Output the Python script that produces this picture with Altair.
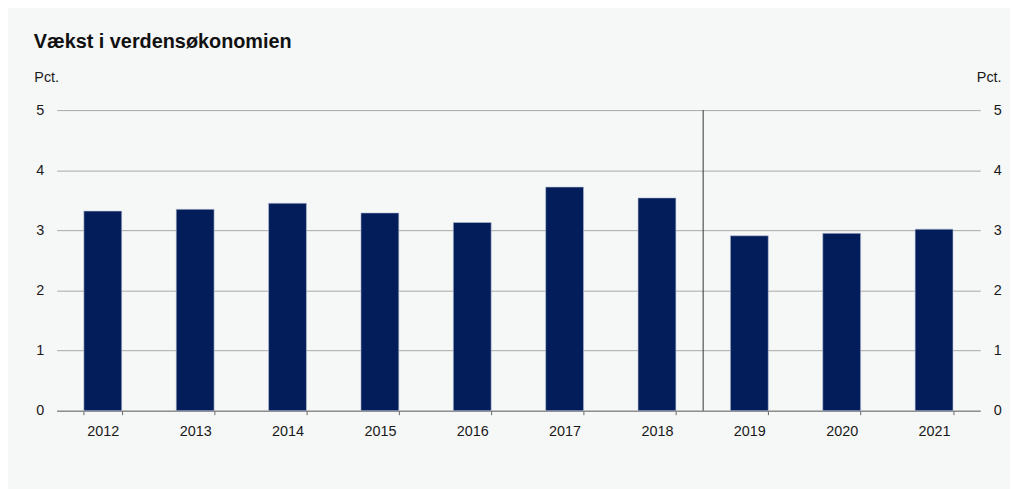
import altair as alt
import pandas as pd

years = ["2012", "2013", "2014", "2015", "2016", "2017", "2018", "2019", "2020", "2021"]
growth = [3.32, 3.35, 3.45, 3.29, 3.13, 3.72, 3.54, 2.91, 2.95, 3.02]
forecast_start = ["2019"]
title_text = "Vækst i verdensøkonomien"
unit_label = "Pct."

df = pd.DataFrame({"year": years, "growth": growth})
df_line = pd.DataFrame({"year": forecast_start})

FONT = "Liberation Sans"
NAVY = "#021d5a"
BG = "#f6f7f7"
TXT = "#1a1a1a"
FS = 14.5
PAD_IN = 0.59
PLOT_W = 931

xscale = alt.Scale(domain=years, paddingInner=PAD_IN, paddingOuter=PAD_IN / 2)
yscale = alt.Scale(domain=[0, 5])

x_axis = alt.Axis(title=None, labelAngle=0, labelFont=FONT, labelFontSize=FS,
                  labelColor=TXT, tickBand="extent", tickColor="#666666",
                  tickSize=4, domainColor="#777777", labelPadding=10, grid=False)

bars = alt.Chart(df).mark_bar(color=NAVY, stroke="#b8c2d6", strokeWidth=0.6).encode(
    x=alt.X("year:O", scale=xscale, sort=years, axis=x_axis),
    y=alt.Y("growth:Q", scale=yscale,
            axis=alt.Axis(orient="left", title=unit_label, titleAngle=0, titleAlign="left",
                          titleX=-23, titleY=-33,
                          titleFont=FONT, titleFontSize=FS, titleFontWeight="normal", titleColor=TXT,
                          titleBaseline="middle",
                          values=[0, 1, 2, 3, 4, 5], labelFont=FONT, labelFontSize=FS,
                          labelColor=TXT, ticks=False, domain=False, labelPadding=13,
                          gridColor="#a8a8a8", gridWidth=1)),
)

right_axis = alt.Chart(df).mark_bar(opacity=0).encode(
    x=alt.X("year:O", scale=xscale, sort=years, axis=x_axis),
    y=alt.Y("growth:Q", scale=yscale,
            axis=alt.Axis(orient="right", title=unit_label, titleAngle=0, titleAlign="right",
                          titleX=21, titleY=-33, titleFont=FONT, titleFontSize=FS,
                          titleFontWeight="normal", titleColor=TXT, titleBaseline="middle",
                          values=[0, 1, 2, 3, 4, 5], labelFont=FONT, labelFontSize=FS,
                          labelColor=TXT, ticks=False, domain=False, labelPadding=13,
                          grid=False)),
)

step = PLOT_W / len(years)
vline = alt.Chart(df_line).mark_rule(color="#333333", strokeWidth=1,
                                     xOffset=-step * PAD_IN / 2).encode(
    x=alt.X("year:O", scale=xscale, sort=years, bandPosition=0, axis=x_axis),
)

chart = alt.layer(bars, vline, right_axis).resolve_scale(y="independent").properties(
    width=PLOT_W,
    height=303,
    background=BG,
    padding={"left": 49, "top": 101, "right": 30, "bottom": 77},
    autosize=alt.AutoSizeParams(type="none"),
    title=alt.TitleParams(title_text, anchor="start", frame="group", dx=-23, dy=-8,
                          font=FONT, fontSize=20, fontWeight="bold", color="#111111",
                          baseline="middle", offset=0),
).configure_view(stroke=None)

chart.save("out.html", embed_options={"renderer": "svg", "actions": False})
